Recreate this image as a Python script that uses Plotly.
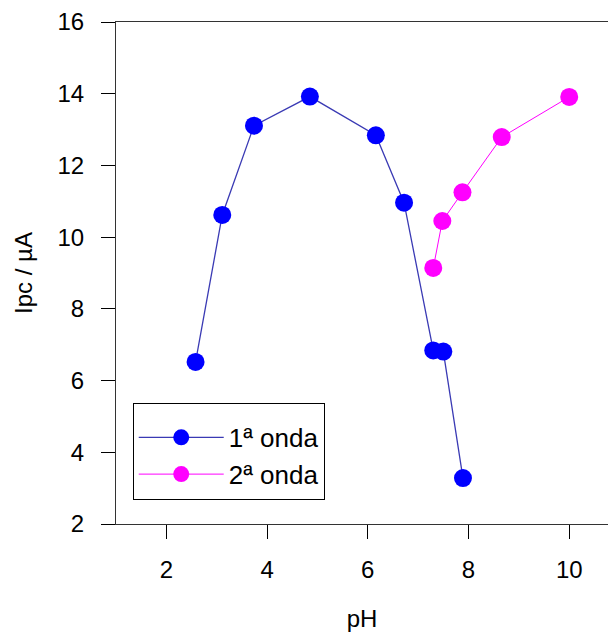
import plotly.graph_objects as go

# Data
ph_1 = [2.58, 3.11, 3.74, 4.85, 6.16, 6.72, 7.30, 7.50, 7.89]
ipc_1 = [6.52, 10.62, 13.11, 13.92, 12.84, 10.96, 6.84, 6.81, 3.28]
ph_2 = [7.30, 7.48, 7.88, 8.66, 10.0]
ipc_2 = [9.14, 10.45, 11.25, 12.79, 13.91]
names = ["1ª onda", "2ª onda"]
x_ticks = [2, 4, 6, 8, 10]
y_ticks = [2, 4, 6, 8, 10, 12, 14, 16]

FONT = "Arial, Liberation Sans, sans-serif"

fig = go.Figure()
fig.add_trace(go.Scatter(
    x=ph_1, y=ipc_1, mode="lines+markers", name=names[0],
    line=dict(color="#3a3ab4", width=1.3),
    marker=dict(color="#0000ff", size=18),
))
fig.add_trace(go.Scatter(
    x=ph_2, y=ipc_2, mode="lines+markers", name=names[1],
    line=dict(color="#ff00ff", width=1),
    marker=dict(color="#ff00ff", size=18),
))

fig.update_layout(
    width=608, height=632,
    margin=dict(l=116, r=0, t=22, b=107.5),
    paper_bgcolor="white", plot_bgcolor="white",
    font=dict(family=FONT, size=24, color="black"),
    showlegend=True,
    legend=dict(
        x=0.034, y=0.242, xanchor="left", yanchor="top",
        bordercolor="black", borderwidth=1, bgcolor="white",
        font=dict(family=FONT, size=26, color="black"),
        itemwidth=85, tracegroupgap=0,
        title=dict(text=" ", font=dict(size=8)),
    ),
    xaxis=dict(
        range=[1, 10.77], tickvals=x_ticks, ticks="outside", ticklen=14,
        tickwidth=1, tickcolor="black", showgrid=False, zeroline=False,
        showline=True, linecolor="#333333", linewidth=1, mirror=True,
        ticklabelstandoff=10,
        title=dict(text="pH", standoff=28, font=dict(size=24)),
        tickfont=dict(size=24),
    ),
    yaxis=dict(
        range=[2, 16], tickvals=y_ticks, ticks="outside", ticklen=14,
        tickwidth=1, tickcolor="black", showgrid=False, zeroline=False,
        showline=True, linecolor="#333333", linewidth=1, mirror=False,
        ticklabelstandoff=12,
        title=dict(text="Ipc / µA", standoff=18, font=dict(size=24)),
        tickfont=dict(size=24),
    ),
)

fig.write_html("out.html")
